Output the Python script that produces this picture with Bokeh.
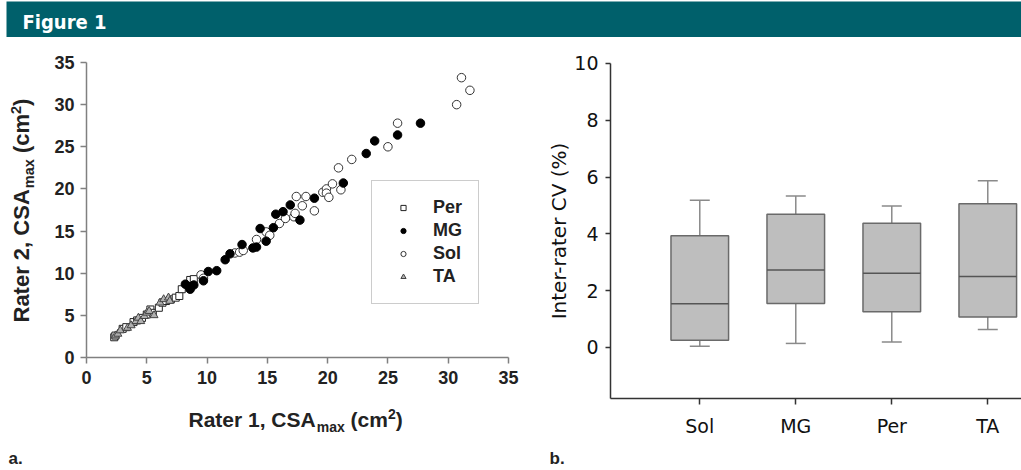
import math
from bokeh.plotting import figure
from bokeh.layouts import column, row
from bokeh.models import Label, Legend, LegendItem, FixedTicker, Range1d
from bokeh.embed import file_html
from bokeh.resources import INLINE

# ---------------- data: panel a (scatter, cm^2) ----------------
per_x = [2.3, 2.4, 3.0, 3.3, 3.9, 4.2, 4.6, 5.0, 5.3, 5.5, 6.0, 6.3, 6.6, 7.0, 7.4, 7.7, 7.9, 8.6, 8.9]
per_y = [2.4, 2.6, 3.4, 3.6, 4.2, 4.4, 4.7, 5.1, 5.7, 5.3, 5.9, 6.5, 6.7, 6.9, 7.1, 7.3, 8.1, 9.2, 9.3]

mg_x = [8.2, 8.5, 8.6, 8.9, 9.7, 10.1, 10.8, 11.5, 11.9, 12.9, 13.8, 14.1, 14.9, 14.4, 15.5,
        15.7, 16.3, 16.9, 17.7, 18.9, 21.3, 23.2, 23.9, 25.8, 27.7]
mg_y = [8.7, 8.4, 8.1, 8.6, 9.1, 10.2, 10.3, 11.6, 12.3, 13.4, 13.0, 13.1, 13.8, 15.3, 15.4,
        17.0, 17.3, 18.1, 16.3, 18.9, 20.7, 24.2, 25.7, 26.4, 27.8]

sol_x = [9.5, 9.7, 12.3, 12.7, 13.0, 14.1, 14.9, 15.2, 16.0, 16.5, 17.2, 17.3, 17.9, 18.9, 17.4,
         18.2, 19.6, 19.9, 19.9, 20.1, 20.4, 21.1, 20.9, 22.0, 25.0, 25.8, 30.7, 31.1, 31.8]
sol_y = [9.8, 9.4, 12.4, 12.5, 12.7, 14.0, 14.9, 14.5, 15.9, 16.5, 16.7, 17.1, 18.0, 17.4, 19.1,
         19.1, 19.6, 20.0, 19.5, 19.0, 20.6, 19.9, 22.5, 23.5, 25.0, 27.8, 30.0, 33.2, 31.7]

ta_x = [2.4, 2.6, 2.8, 3.4, 3.7, 4.1, 4.3, 4.5, 4.8, 5.0, 5.2, 5.6, 6.1, 6.4, 6.8, 6.9]
ta_y = [2.6, 2.8, 3.2, 3.5, 3.8, 4.3, 4.7, 4.3, 4.9, 5.3, 5.5, 5.0, 6.5, 6.9, 7.1, 6.7]

# ---------------- data: panel b (box plot, %) ----------------
cats = ["Sol", "MG", "Per", "TA"]
whisk_low = [0.04, 0.14, 0.19, 0.63]
q1 = [0.25, 1.55, 1.26, 1.07]
median = [1.54, 2.73, 2.61, 2.50]
q3 = [3.93, 4.69, 4.37, 5.06]
whisk_high = [5.18, 5.33, 4.98, 5.87]

tick_a = [0, 5, 10, 15, 20, 25, 30, 35]
tick_b = [0, 2, 4, 6, 8, 10]

TEAL = "#00606b"
BOLD_FONT = "Liberation Sans"
MID = 0.35  # baseline -> vertical text centre, as a fraction of font size

# ---------------- header ----------------
header = figure(width=1021, height=37, x_range=(0, 1), y_range=(0, 1),
                toolbar_location=None, output_backend="svg",
                x_axis_type=None, y_axis_type=None, min_border=0,
                min_border_left=6, min_border_top=1,
                outline_line_color=None, background_fill_color=TEAL,
                border_fill_color="white")
header.add_layout(Label(x=(22 - 6) / 1015, y=(37 - (28 - MID * 20)) / 36, text="Figure 1",
                        text_color="white", text_font="DejaVu Sans Condensed",
                        text_font_style="bold", text_font_size="20px", text_baseline="middle"))


# ---------------- panel a ----------------
# pixel helpers (page coordinates -> data coordinates of panel a)
def ax1(X):
    return (X - 86) / (422 / 35)


def ay1(Y):
    return (357 - Y) / (295 / 35)


p1 = figure(width=540, height=433, x_range=Range1d(ax1(0), ax1(540)),
            y_range=Range1d(ay1(470), ay1(37)),
            toolbar_location=None, output_backend="svg", min_border=0,
            outline_line_color=None)
p1.grid.visible = False
for ax in (p1.xaxis[0], p1.yaxis[0]):
    ax.ticker = FixedTicker(ticks=tick_a)
    ax.fixed_location = 0
    ax.bounds = (0, 35)
    ax.minor_tick_line_color = None
    ax.axis_line_color = "#808080"
    ax.axis_line_width = 1.5
    ax.major_tick_line_color = "#808080"
    ax.major_tick_line_width = 1.5
    ax.major_tick_in = 0
    ax.major_tick_out = 6
    ax.major_label_text_font = BOLD_FONT
    ax.major_label_text_font_style = "bold"
    ax.major_label_text_font_size = "18px"
    ax.major_label_text_color = "#222222"
p1.xaxis.major_label_standoff = 7
p1.yaxis.major_label_standoff = 6

r_per = p1.scatter(per_x, per_y, marker="square", size=7, fill_color="white",
                   line_color="#222222", line_width=1)
r_ta = p1.scatter(ta_x, ta_y, marker="triangle", size=8, fill_color="#b0b0b0",
                  line_color="#444444", line_width=1)
r_sol = p1.scatter(sol_x, sol_y, marker="circle", size=8.5, fill_color="white",
                   line_color="#333333", line_width=1)
r_mg = p1.scatter(mg_x, mg_y, marker="circle", size=8.5, fill_color="black",
                  line_color="black")

legend = Legend(items=[LegendItem(label="Per", renderers=[r_per]),
                       LegendItem(label="MG", renderers=[r_mg]),
                       LegendItem(label="Sol", renderers=[r_sol]),
                       LegendItem(label="TA", renderers=[r_ta])],
                location=(371, 470 - 304), padding=16, spacing=2, margin=0,
                glyph_width=30, glyph_height=13, label_height=20, label_standoff=15,
                label_text_font=BOLD_FONT, label_text_font_style="bold",
                label_text_font_size="18px", label_text_color="#222222",
                border_line_color="#999999", border_line_width=1.5,
                background_fill_color="white", background_fill_alpha=1)
p1.add_layout(legend)


def lab(p, x, y, text, size, angle=0.0):
    p.add_layout(Label(x=x, y=y, text=text, angle=angle, text_font=BOLD_FONT,
                       text_font_style="bold", text_font_size=f"{size}px",
                       text_color="#222222", text_baseline="middle",
                       text_align="left"))


# x-axis title: Rater 1, CSA_max (cm^2); positions given as baselines, converted to centres
X = 188
lab(p1, ax1(X), ay1(426 - MID * 21), "Rater 1, CSA", 21); X += 127.2
lab(p1, ax1(X + 1), ay1(431 - MID * 14), "max", 14); X += 29 + 5.8
lab(p1, ax1(X), ay1(426 - MID * 21), "(cm", 21); X += 37.4
lab(p1, ax1(X), ay1(418 - MID * 14), "2", 14); X += 7.8
lab(p1, ax1(X), ay1(426 - MID * 21), ")", 21)

# y-axis title (rotated, reads bottom to top; letter tops point left)
Y = 322
A = math.pi / 2
lab(p1, ax1(29 - MID * 22), ay1(Y), "Rater 2, CSA", 22, A); Y -= 133.3
lab(p1, ax1(34 - MID * 14.5), ay1(Y - 1), "max", 14.5, A); Y -= 30 + 6.1
lab(p1, ax1(29 - MID * 22), ay1(Y), "(cm", 22, A); Y -= 39.1
lab(p1, ax1(21 - MID * 14.5), ay1(Y), "2", 14.5, A); Y -= 8.1
lab(p1, ax1(29 - MID * 22), ay1(Y), ")", 22, A)

p1.add_layout(Label(x=ax1(8), y=ay1(464 - MID * 17), text="a.", text_font=BOLD_FONT,
                    text_font_style="bold", text_font_size="17px", text_color="#222222",
                    text_baseline="middle"))


# ---------------- panel b ----------------
def bx(X):
    return 0.07 + (X - 610) / 96


def by(Y):
    return -1.8 - (Y - 398) / 28.39


pos = list(range(1, len(cats) + 1))
p2 = figure(width=481, height=433, x_range=Range1d(bx(540), bx(1021)),
            y_range=Range1d(by(470), by(37)),
            toolbar_location=None, output_backend="svg", min_border=0,
            outline_line_color=None)
p2.grid.visible = False
for ax in (p2.xaxis[0], p2.yaxis[0]):
    ax.minor_tick_line_color = None
    ax.axis_line_color = "#333333"
    ax.axis_line_width = 1.5
    ax.major_tick_line_color = "#333333"
    ax.major_tick_line_width = 1.5
    ax.major_tick_in = 0
    ax.major_label_text_font = "DejaVu Sans"
    ax.major_label_text_font_size = "19px"
    ax.major_label_text_color = "#111111"
p2.yaxis.ticker = FixedTicker(ticks=tick_b)
p2.yaxis.fixed_location = bx(610)
p2.yaxis.bounds = (-1.8, 10)
p2.yaxis.major_tick_out = 5
p2.yaxis.major_label_standoff = 7
p2.xaxis.ticker = FixedTicker(ticks=pos)
p2.xaxis.fixed_location = -1.8
p2.xaxis.bounds = (bx(610), bx(1021))
p2.xaxis.major_label_overrides = {i: c for i, c in zip(pos, cats)}
p2.xaxis.major_tick_out = 6
p2.xaxis.major_label_standoff = 10
p2.yaxis.axis_label = "Inter-rater CV (%)"
p2.yaxis.axis_label_text_font = "DejaVu Sans"
p2.yaxis.axis_label_text_font_style = "normal"
p2.yaxis.axis_label_text_font_size = "20px"
p2.yaxis.axis_label_text_color = "#111111"
p2.yaxis.axis_label_standoff = 0

cap = 0.104
p2.segment(x0=pos, y0=q3, x1=pos, y1=whisk_high, line_color="#8a8a8a", line_width=1.5)
p2.segment(x0=pos, y0=whisk_low, x1=pos, y1=q1, line_color="#8a8a8a", line_width=1.5)
p2.segment(x0=[p - cap for p in pos], y0=whisk_high, x1=[p + cap for p in pos], y1=whisk_high,
           line_color="#8a8a8a", line_width=1.5)
p2.segment(x0=[p - cap for p in pos], y0=whisk_low, x1=[p + cap for p in pos], y1=whisk_low,
           line_color="#8a8a8a", line_width=1.5)
p2.vbar(x=pos, width=0.6, bottom=q1, top=q3, fill_color="#bebebe",
        line_color="#6a6a6a", line_width=1.5)
p2.segment(x0=[p - 0.3 for p in pos], y0=median, x1=[p + 0.3 for p in pos], y1=median,
           line_color="#555555", line_width=1.5)

p2.add_layout(Label(x=bx(549), y=by(464 - MID * 17), text="b.", text_font=BOLD_FONT,
                    text_font_style="bold", text_font_size="17px", text_color="#222222",
                    text_baseline="middle"))

layout = column(header, row(p1, p2))
open("out.html", "w").write(file_html(layout, INLINE))
